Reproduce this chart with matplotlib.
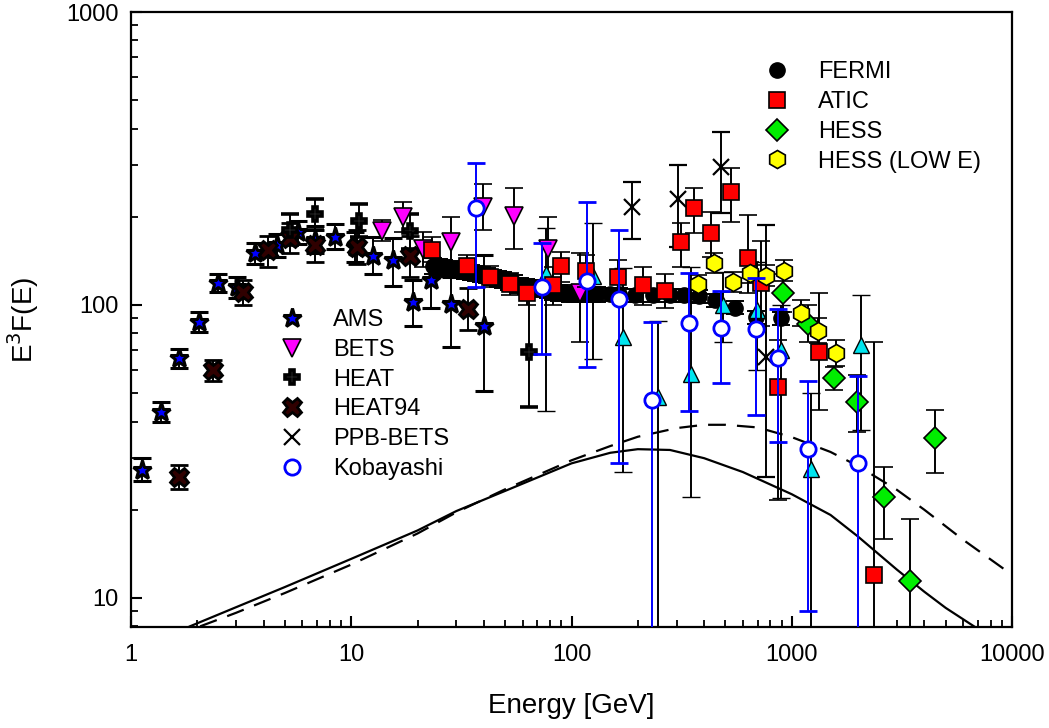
import matplotlib
matplotlib.use("Agg")
import matplotlib.pyplot as plt
from matplotlib.lines import Line2D
import numpy as np

plt.rcParams['font.family'] = ['Liberation Sans', 'DejaVu Sans']

# ---------------- data (E in GeV, E^3F(E), low/high error limits) ----------------
ams_E = [1.12, 1.37, 1.65, 2.04, 2.49, 3.03, 3.66, 4.61, 5.74, 6.86, 8.46, 10.4, 12.6, 15.5, 19.1, 23.1, 28.5, 40.2]
ams_v = [27.3, 43.1, 65.9, 87.5, 119, 115, 150, 160, 177, 167, 171, 158, 147, 142, 102, 122, 101, 84.8]
ams_lo = [25, 40, 61, 81, 111, 106, 138, 146, 162, 150, 155, 140, 128, 116, 85, 98, 72, 51]
ams_hi = [30, 46.5, 71, 95, 128, 125, 163, 175, 194, 186, 189, 178, 170, 169, 122, 146, 125, 148]

bets_E = [13.8, 17.1, 21.2, 28.5, 39.8, 55.1, 78.6, 109]
bets_v = [179, 200, 155, 164, 216, 201, 155, 110]
bets_lo = [165, 178, 135, 130, 180, 155, 110, 75]
bets_hi = [195, 225, 178, 200, 258, 250, 200, 150]

heat_E = [5.28, 6.86, 10.8, 18.5, 63.8]
heat_v = [180, 205, 194, 179, 69.1]
heat_lo = [160, 180, 170, 155, 45]
heat_hi = [205, 230, 222, 205, 108]

heat94_E = [1.65, 2.36, 3.23, 4.2, 5.28, 6.86, 10.6, 18.5, 34.0]
heat94_v = [25.9, 60.0, 111, 154, 169, 160, 158, 147, 97]
heat94_lo = [23.5, 55, 100, 135, 150, 140, 138, 125, 82]
heat94_hi = [28.5, 65, 122, 172, 190, 180, 180, 172, 114]

ppb_E = [189, 303, 476, 762]
ppb_v = [216, 230, 296, 66.5]
ppb_lo = [168, 158, 206, 25.9]
ppb_hi = [263, 300, 389, 187]

koba_E = [37.0, 73.1, 117, 165, 233, 340, 476, 686, 864, 1183, 1995]
koba_v = [214, 115, 121, 105, 47.4, 86.8, 83.5, 82.8, 65.9, 32.3, 28.9]
koba_lo = [115, 68, 61.4, 28.9, 1, 43.5, 54.2, 42.2, 34.1, 9.0, 1]
koba_hi = [305, 163, 225, 180, 87.5, 129, 112, 124, 97, 55, 57.2]

fermi_E = [23.5, 25, 26.5, 28, 29.5, 31, 33, 35, 37, 39, 41.5, 44, 46.5, 49, 52, 55, 58.5, 62,
           65.5, 69.5, 73.5, 78, 82.5, 87.5, 92.5, 98, 104, 110, 117, 124, 131, 150, 165, 195,
           235, 280, 325, 380, 450, 555, 690, 890]
fermi_v = [136, 135, 134, 133, 132, 131, 130, 129, 128, 127, 126, 124, 123, 122, 120, 119, 117, 116,
           115, 114, 113, 112, 111, 110, 110, 109, 109, 109, 109, 109, 109, 109, 109, 108,
           108, 108, 108, 107, 104, 98, 91, 90]
fermi_err = [0.06] * 31 + [0.05] * 11

atic_E = [23.3, 33.7, 42.8, 52.8, 63.1, 82, 90, 116, 162, 212, 267, 313, 359, 428, 528, 631, 723, 864, 1327, 2360]
atic_v = [154, 136, 125, 118, 110, 117, 136, 131, 125, 117, 112, 164, 214, 176, 243, 145, 119, 52.5, 69.1, 12.0]
atic_lo = [140, 125, 115, 108, 100, 100, 120, 115, 110, 100, 98, 135, 176, 146, 192, 110, 85, 21.6, 43.9, 1]
atic_hi = [170, 148, 136, 129, 122, 135, 152, 148, 142, 135, 128, 190, 251, 208, 294, 203, 165, 76, 110, 75]

hess_E = [910, 1183, 1552, 1974, 2620, 3437, 4467]
hess_v = [110, 86.1, 56.4, 46.7, 22.1, 11.4, 35.2]
hess_lo = [95, 75, 51.3, 36.9, 15.9, 1, 26.7]
hess_hi = [128, 100, 61.4, 57.7, 28.0, 18.6, 43.8]

hessl_E = [374, 442, 539, 644, 762, 920, 1099, 1313, 1585]
hessl_v = [118, 139, 120, 129, 126, 131, 94, 81.5, 68.6]
hessl_lo = [110, 129, 111, 119, 116, 121, 85, 74, 62]
hessl_hi = [127, 150, 130, 140, 137, 142, 104, 90, 76]

cyan_E = [76.9, 125, 172, 248, 348, 486, 693, 891, 1220, 2060]
cyan_v = [128, 126, 77.8, 48.5, 58.2, 100, 96, 70, 27.6, 73]
cyan_lo = [43.4, 65.5, 26.9, 1, 22.1, 75, 60, 22, 1, 37.4]
cyan_hi = [183, 190, 134, 88, 135, 130, 140, 100, 50, 108]

solid_E = [1.85, 3, 5, 10, 20, 30, 50, 100, 150, 200, 280, 400, 600, 1000, 1500, 2000, 3000, 4000, 5000, 6900]
solid_v = [8.0, 9.3, 10.9, 13.6, 17.0, 19.8, 23.2, 28.8, 31.3, 32.2, 32.0, 30.0, 26.9, 22.6, 19.2, 16.2, 12.5, 10.5, 9.25, 7.9]

dash_E = [2.06, 3, 5, 10, 20, 30, 50, 100, 150, 200, 300, 400, 500, 700, 1000, 1500, 2000, 3000, 4000, 6000, 10000]
dash_v = [8.0, 8.9, 10.4, 13.0, 16.6, 19.6, 23.5, 29.5, 33.0, 35.5, 38.0, 39.0, 39.0, 38.2, 35.4, 31.5, 28.2, 23.4, 20.0, 15.8, 12.0]

xticks = [1, 10, 100, 1000, 10000]
xticklabels = ['1', '10', '100', '1000', '10000']
yticks = [10, 100, 1000]
yticklabels = ['10', '100', '1000']

# ---------------- figure ----------------
W, H = 1049, 728
fig = plt.figure(figsize=(W / 100, H / 100), dpi=100)
ax = fig.add_axes([131 / W, 1 - 627 / H, (1012 - 131) / W, (627 - 12) / H])
ax.set_xscale('log')
ax.set_yscale('log')
ax.set_xlim(1, 10000)
ax.set_ylim(7.96, 1000)

ax.plot(solid_E, solid_v, color='black', lw=1.6, zorder=1)
ax.plot(dash_E, dash_v, color='black', lw=1.6, dashes=[8, 5], zorder=1)

def yerr(v, lo, hi):
    v = np.array(v, float)
    return [v - np.array(lo, float), np.array(hi, float) - v]

ecap = 6.5
elw = 1.4

fv = np.array(fermi_v)
fe = np.array(fermi_err)
ax.errorbar(fermi_E, fermi_v, yerr=[fv * fe, fv * fe], fmt='o', ms=11, mfc='black', mec='black',
            ecolor='black', elinewidth=elw, capsize=ecap, capthick=elw, zorder=2)

AMS_STYLE = dict(marker='*', ms=14, mfc='#0000ff', mec='black', mew=2.2)
BETS_STYLE = dict(marker='v', ms=13, mfc='#ff00ff', mec='black', mew=1.2)
HEAT_STYLE = dict(marker='P', ms=10, mfc='#606060', mec='black', mew=2.6)
HEAT94_STYLE = dict(marker='X', ms=13, mfc='#300000', mec='black', mew=2.0)
PPB_STYLE = dict(marker='x', ms=11, mfc='black', mec='black', mew=1.6)
KOBA_STYLE = dict(marker='o', ms=11, mfc='white', mec='#0000ff', mew=2.0)
FERMI_STYLE = dict(marker='o', ms=11, mfc='black', mec='black', mew=1)
ATIC_STYLE = dict(marker='s', ms=12, mfc='#ff0000', mec='black', mew=1.2)
HESS_STYLE = dict(marker='D', ms=11, mfc='#00ee00', mec='black', mew=1.2)
HESSL_STYLE = dict(marker='h', ms=13, mfc='#ffff00', mec='black', mew=1.2)
CYAN_STYLE = dict(marker='^', ms=11, mfc='#00e5ee', mec='black', mew=1.0)

common = dict(ecolor='black', elinewidth=elw, capsize=ecap, capthick=elw, linestyle='none')
ax.errorbar(ams_E, ams_v, yerr=yerr(ams_v, ams_lo, ams_hi), zorder=3, **AMS_STYLE, **common)
ax.errorbar(heat94_E, heat94_v, yerr=yerr(heat94_v, heat94_lo, heat94_hi), zorder=3, **HEAT94_STYLE, **common)
ax.errorbar(heat_E, heat_v, yerr=yerr(heat_v, heat_lo, heat_hi), zorder=3, **HEAT_STYLE, **common)
ax.errorbar(bets_E, bets_v, yerr=yerr(bets_v, bets_lo, bets_hi), zorder=4, **BETS_STYLE, **common)
ax.errorbar(ppb_E, ppb_v, yerr=yerr(ppb_v, ppb_lo, ppb_hi), zorder=4, **PPB_STYLE, **common)
ax.errorbar(cyan_E, cyan_v, yerr=yerr(cyan_v, cyan_lo, cyan_hi), zorder=4, **CYAN_STYLE, **common)
ax.errorbar(atic_E, atic_v, yerr=yerr(atic_v, atic_lo, atic_hi), zorder=5, **ATIC_STYLE, **common)
ax.errorbar(hess_E, hess_v, yerr=yerr(hess_v, hess_lo, hess_hi), zorder=5, **HESS_STYLE, **common)
ax.errorbar(hessl_E, hessl_v, yerr=yerr(hessl_v, hessl_lo, hessl_hi), zorder=5, **HESSL_STYLE, **common)
ax.errorbar(koba_E, koba_v, yerr=yerr(koba_v, koba_lo, koba_hi), ecolor='#0000ff', elinewidth=elw,
            capsize=ecap, capthick=elw, linestyle='none', zorder=6, **KOBA_STYLE)

# ---------------- axes styling ----------------
for s in ax.spines.values():
    s.set_linewidth(1.6)
ax.set_xticks(xticks)
ax.set_xticklabels(xticklabels)
ax.set_yticks(yticks)
ax.set_yticklabels(yticklabels)
ax.tick_params(which='major', direction='in', length=8, width=1.5, labelsize=17, pad=12)
ax.tick_params(which='minor', direction='in', length=5, width=1.3)
ax.tick_params(axis='y', which='major', pad=9)
ax.set_xlabel('Energy [GeV]', fontsize=20, labelpad=20)
ax.set_ylabel('E$^3$F(E)', fontsize=20, labelpad=18)

# ---------------- legends ----------------
def h(style):
    return Line2D([], [], linestyle='none', **style)

left_handles = [h(AMS_STYLE), h(BETS_STYLE), h(HEAT_STYLE), h(HEAT94_STYLE), h(PPB_STYLE), h(KOBA_STYLE)]
left_labels = ['AMS', 'BETS', 'HEAT', 'HEAT94', 'PPB-BETS', 'Kobayashi']
right_handles = [h(FERMI_STYLE), h(ATIC_STYLE), h(HESS_STYLE), h(HESSL_STYLE)]
right_labels = ['FERMI', 'ATIC', 'HESS', 'HESS (LOW E)']

leg_kw = dict(frameon=False, fontsize=17, handlelength=1.0, handletextpad=1.25,
              labelspacing=0.33, borderpad=0, borderaxespad=0, loc='upper left')
leg1 = ax.legend(left_handles, left_labels, bbox_to_anchor=(0.169, 0.517), **leg_kw)
ax.add_artist(leg1)
ax.legend(right_handles, right_labels, bbox_to_anchor=(0.7196, 0.920), **leg_kw)

fig.savefig('out.png', dpi=100)
